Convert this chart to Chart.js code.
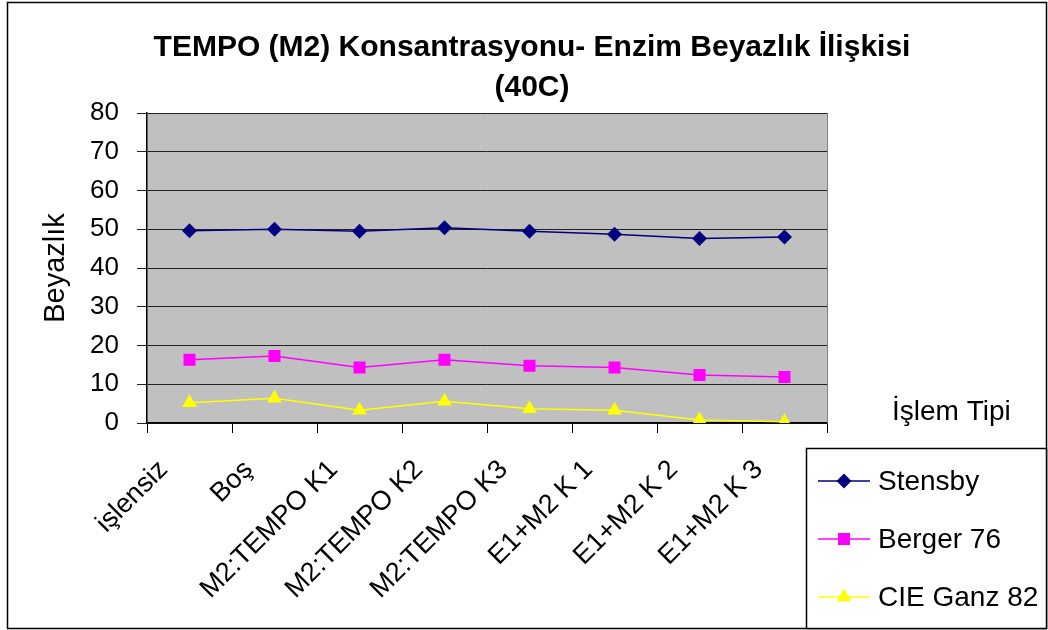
<!DOCTYPE html>
<html lang="tr">
<head>
  <meta charset="UTF-8">
  <title>TEMPO (M2) Konsantrasyonu- Enzim Beyazlık İlişkisi</title>
  <script src="https://cdn.jsdelivr.net/npm/chart.js"></script>
  <style>
    html, body { margin: 0; padding: 0; background: #fff; }
    #wrap { width: 1048px; height: 630px; }
  </style>
</head>
<body>
  <div id="wrap"><canvas id="beyazlikChart" width="1048" height="630"></canvas></div>

  <script>
    // Treatment types on the x axis
    const islemTipi = ['işlensiz', 'Boş', 'M2:TEMPO K1', 'M2:TEMPO K2', 'M2:TEMPO K3', 'E1+M2 K 1', 'E1+M2 K 2', 'E1+M2 K 3'];

    // Whiteness values for each index
    const stensby = [49.6, 50.0, 49.5, 50.4, 49.5, 48.7, 47.6, 48.0];
    const berger76 = [16.3, 17.3, 14.3, 16.3, 14.8, 14.3, 12.4, 11.9];
    const cieGanz82 = [5.2, 6.4, 3.3, 5.6, 3.7, 3.3, 0.8, 0.3];

    const yMin = 0, yMax = 80, yStep = 10;

    const FONT = 'Arial, "Liberation Sans", sans-serif';

    // Background, plot frame, legend box and axis name
    const framePlugin = {
      id: 'frame',
      beforeDraw(chart) {
        const { ctx, chartArea: a } = chart;
        ctx.save();
        ctx.fillStyle = '#fff';
        ctx.fillRect(0, 0, chart.width, chart.height);
        ctx.fillStyle = '#c0c0c0';
        ctx.fillRect(a.left, a.top, a.right - a.left, a.bottom - a.top);
        ctx.restore();
      },
      afterDraw(chart) {
        const { ctx, chartArea: a } = chart;
        ctx.save();
        // right edge of the plot
        ctx.strokeStyle = '#808080';
        ctx.lineWidth = 1;
        ctx.beginPath();
        ctx.moveTo(Math.round(a.right) + 0.5, a.top);
        ctx.lineTo(Math.round(a.right) + 0.5, a.bottom);
        ctx.stroke();

        // outer chart border
        ctx.strokeStyle = '#000';
        ctx.lineWidth = 1.5;
        ctx.strokeRect(7.5, 2.5, 1039, 626);

        // axis name on the right
        ctx.fillStyle = '#000';
        ctx.font = '28px ' + FONT;
        ctx.textBaseline = 'middle';
        ctx.textAlign = 'left';
        ctx.fillText('İşlem Tipi', 892, 412);

        // legend
        const lx = 806, ly = 448;
        ctx.fillStyle = '#fff';
        ctx.fillRect(lx, ly, 1046 - lx, 628 - ly);
        ctx.strokeStyle = '#000';
        ctx.lineWidth = 1.5;
        ctx.strokeRect(lx + 0.5, ly + 0.5, 1046 - lx, 628 - ly);

        chart.data.datasets.forEach((ds, i) => {
          const y = 481 + i * 58;
          ctx.strokeStyle = ds.borderColor;
          ctx.lineWidth = ds.borderWidth;
          ctx.beginPath();
          ctx.moveTo(818, y);
          ctx.lineTo(870, y);
          ctx.stroke();
          ctx.fillStyle = ds.pointBackgroundColor;
          ctx.strokeStyle = ds.pointBorderColor;
          Chart.helpers.drawPoint(ctx, {
            pointStyle: ds.pointStyle,
            radius: ds.pointRadius,
            rotation: 0,
            borderWidth: 0
          }, 844, y);
          ctx.fillStyle = '#000';
          ctx.font = '28px ' + FONT;
          ctx.textBaseline = 'middle';
          ctx.textAlign = 'left';
          ctx.fillText(ds.label, 878, y + 1);
        });
        ctx.restore();
      }
    };

    const ctx = document.getElementById('beyazlikChart').getContext('2d');
    new Chart(ctx, {
      type: 'line',
      data: {
        labels: islemTipi,
        datasets: [
          {
            label: 'Stensby',
            data: stensby,
            borderColor: '#000080',
            backgroundColor: '#000080',
            pointBackgroundColor: '#000080',
            pointBorderColor: '#000080',
            borderWidth: 1.5,
            pointStyle: 'rectRot',
            pointRadius: 7.5,
            pointBorderWidth: 0,
            tension: 0
          },
          {
            label: 'Berger 76',
            data: berger76,
            borderColor: '#ff00ff',
            backgroundColor: '#ff00ff',
            pointBackgroundColor: '#ff00ff',
            pointBorderColor: '#ff00ff',
            borderWidth: 1.5,
            pointStyle: 'rect',
            pointRadius: 8.5,
            pointBorderWidth: 0,
            tension: 0
          },
          {
            label: 'CIE Ganz 82',
            data: cieGanz82,
            borderColor: '#ffff00',
            backgroundColor: '#ffff00',
            pointBackgroundColor: '#ffff00',
            pointBorderColor: '#ffff00',
            borderWidth: 1.5,
            pointStyle: 'triangle',
            pointRadius: 8.5,
            pointBorderWidth: 0,
            tension: 0
          }
        ]
      },
      options: {
        responsive: false,
        animation: false,
        layout: { padding: { left: 16, right: 0, top: 0, bottom: 0 } },
        plugins: {
          legend: { display: false },
          tooltip: { enabled: false },
          title: {
            display: true,
            text: ['TEMPO (M2) Konsantrasyonu- Enzim Beyazlık İlişkisi', '(40C)'],
            color: '#000',
            font: { family: FONT, size: 30, weight: 'bold', lineHeight: 1.35 },
            padding: { top: 27, bottom: 5 }
          }
        },
        scales: {
          x: {
            offset: true,
            grid: {
              offset: true,
              drawOnChartArea: false,
              drawTicks: true,
              tickLength: 10,
              color: '#000'
            },
            border: { display: true, color: '#000', width: 1.5 },
            ticks: {
              color: '#000',
              font: { family: FONT, size: 27 },
              maxRotation: 45,
              minRotation: 45,
              padding: 21,
              labelOffset: -26,
              autoSkip: false
            },
            afterFit(scale) { scale.height = 207; }
          },
          y: {
            min: yMin,
            max: yMax,
            grid: { color: '#222', lineWidth: 1, tickLength: 10, drawTicks: true },
            border: { display: true, color: '#000', width: 1.5 },
            ticks: {
              stepSize: yStep,
              color: '#000',
              font: { family: FONT, size: 26 },
              padding: 18
            },
            title: {
              display: true,
              text: 'Beyazlık',
              color: '#000',
              font: { family: FONT, size: 29 },
              padding: { top: 23, bottom: 0 }
            },
            afterFit(scale) { scale.width = 131; }
          },
          // empty right-hand axis that keeps room for the legend column
          side: {
            type: 'linear',
            position: 'right',
            display: true,
            grid: { display: false },
            border: { display: false },
            ticks: { display: false },
            afterFit(scale) { scale.width = 221; }
          }
        }
      },
      plugins: [framePlugin]
    });
  </script>
</body>
</html>
